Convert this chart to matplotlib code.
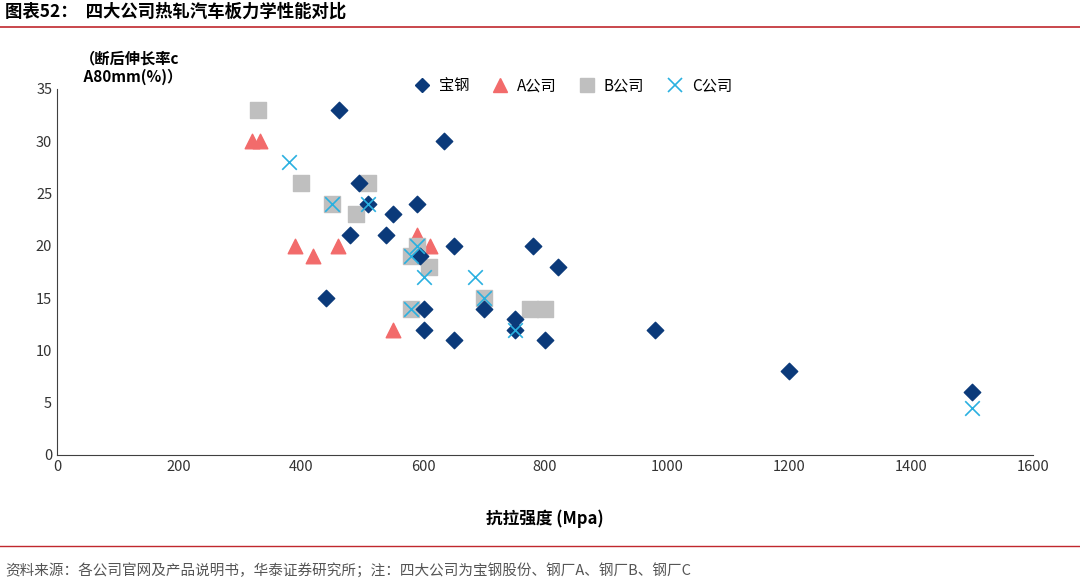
import matplotlib
matplotlib.use("Agg")
import matplotlib.pyplot as plt
from matplotlib.lines import Line2D

plt.rcParams["font.family"] = ["Noto Sans CJK SC", "DejaVu Sans"]

bao_x = [462, 634, 495, 510, 590, 551, 480, 539, 651, 780, 821, 595, 441, 602, 700, 751, 602, 751, 651, 800, 980, 1200, 1500]
bao_y = [33, 30, 26, 24, 24, 23, 21, 21, 20, 20, 18, 19, 15, 14, 14, 13, 12, 12, 11, 11, 12, 8, 6]
a_x = [320, 333, 390, 420, 461, 590, 611, 551]
a_y = [30, 30, 20, 19, 20, 21, 20, 12]
b_x = [330, 400, 510, 450, 490, 590, 580, 610, 580, 700, 775, 800]
b_y = [33, 26, 26, 24, 23, 20, 19, 18, 14, 15, 14, 14]
c_x = [380, 450, 510, 590, 580, 602, 685, 700, 580, 751, 1500]
c_y = [28, 24, 24, 20, 19, 17, 17, 15, 14, 12, 4.5]
series_names = ["宝钢", "A公司", "B公司", "C公司"]

fig = plt.figure(figsize=(10.8, 5.85), dpi=100)
ax = fig.add_axes([57/1080, 1-455/585, (1033-57)/1080, (455-89)/585])

ax.scatter(bao_x, bao_y, marker="D", s=70, color="#0B3A7A", zorder=3)
ax.scatter(a_x, a_y, marker="^", s=110, color="#F26B6B", zorder=2)
ax.scatter(b_x, b_y, marker="s", s=130, color="#BFBFBF", zorder=2)
ax.scatter(c_x, c_y, marker="x", s=110, color="#2AB0E0", linewidths=1.2, zorder=4)

ax.set_xlim(0, 1600)
ax.set_ylim(0, 35)
ax.set_xticks(range(0, 1601, 200))
ax.set_yticks(range(0, 36, 5))
ax.tick_params(labelsize=10.5, colors="#333333", length=0)
for s in ["top", "right"]:
    ax.spines[s].set_visible(False)
for s in ["left", "bottom"]:
    ax.spines[s].set_color("#404040")
ax.set_xlabel("抗拉强度 (Mpa)", fontsize=12, fontweight="bold", labelpad=26)

handles = [
    Line2D([], [], marker="D", color="#0B3A7A", ls="", markersize=7),
    Line2D([], [], marker="^", color="#F26B6B", ls="", markersize=10),
    Line2D([], [], marker="s", color="#BFBFBF", ls="", markersize=10),
    Line2D([], [], marker="x", color="#2AB0E0", ls="", markersize=10, mew=1.2),
]
ax.legend(handles, series_names, loc="upper center", bbox_to_anchor=(0.525, 1.07), ncol=4,
          frameon=False, fontsize=11, handletextpad=0.1, columnspacing=1.0)

fig.text(80/1080, 1-68/585, "（断后伸长率c\n A80mm(%)）", fontsize=11, fontweight="bold", va="center", ha="left")
fig.text(5/1080, 1-12/585, "图表52：  四大公司热轧汽车板力学性能对比", fontsize=12.5, fontweight="bold", va="center", ha="left")
fig.add_artist(Line2D([0, 1], [1-27/585, 1-27/585], color="#C0282D", lw=1.2))
fig.add_artist(Line2D([0, 1], [1-546/585, 1-546/585], color="#C0282D", lw=1.0))
fig.text(5/1080, 1-571/585, "资料来源：各公司官网及产品说明书，华泰证券研究所；注：四大公司为宝钢股份、钢厂A、钢厂B、钢厂C",
         fontsize=10.5, color="#555555", va="center", ha="left")

fig.savefig("out.png", dpi=100)
